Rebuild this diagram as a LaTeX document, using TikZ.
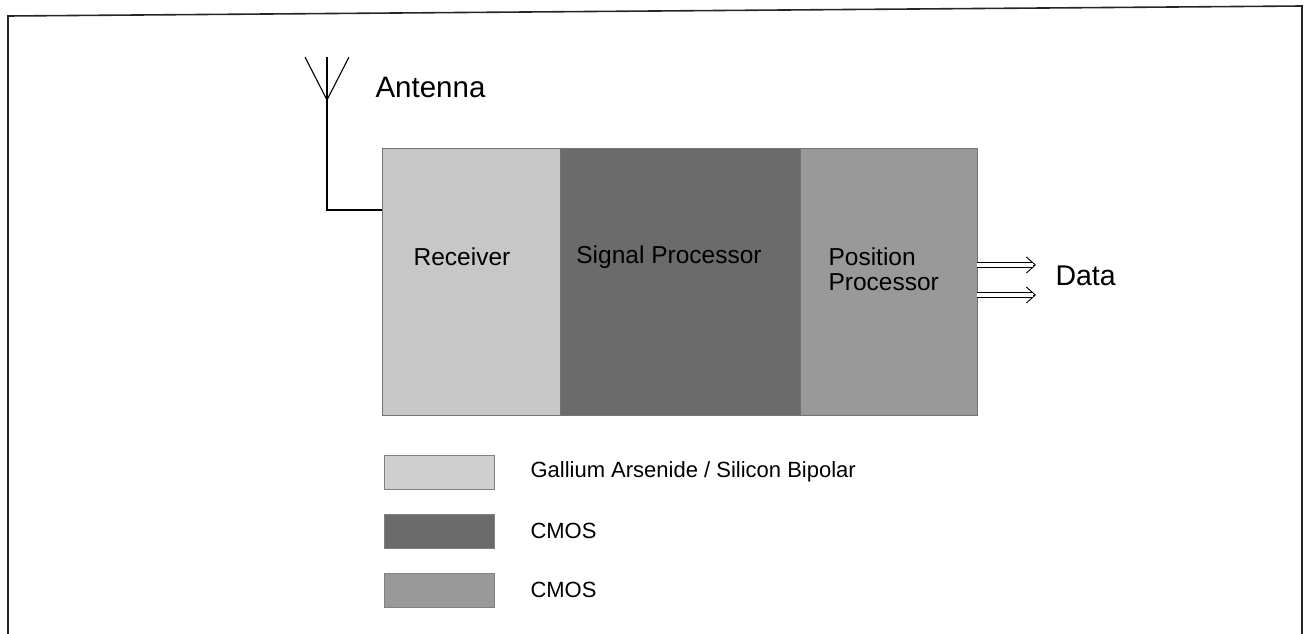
\documentclass[tikz,border=0pt]{standalone}
\usepackage{fontspec}
\setmainfont{Liberation Sans}
\usepackage{tikz}
\usetikzlibrary{arrows.meta,positioning}

\definecolor{gaas}{gray}{0.78}
\definecolor{cmosdk}{gray}{0.42}
\definecolor{cmoslt}{gray}{0.60}

\begin{document}
\begin{tikzpicture}[x=1pt,y=-1pt,
   blk/.style={draw=black!55,line width=0.6pt,inner sep=0pt,outer sep=0pt,minimum height=267pt},
   lbl/.style={font=\fontsize{24.5}{25}\selectfont},
   key/.style={draw=black!50,line width=0.5pt,inner sep=0pt,minimum width=110pt,minimum height=34pt},
   keytx/.style={anchor=west,font=\fontsize{22}{24}\selectfont},
   dattip/.style={line width=0.9pt,-{Straight Barb[length=9pt,width=16pt]}},
   dat/.style={double,double distance=3.6pt,line width=0.9pt,shorten >=3.2pt}]
  \useasboundingbox (0,0) rectangle (1304,634);
  % frame
  \draw[line width=1.6pt,black!85] (8,634) -- (8,16) -- (1302,6) -- (1302,634);
  % blocks
  \node[blk,fill=gaas,minimum width=178pt]   (rx) at (471,281.5) {};
  \node[blk,fill=cmosdk,minimum width=240pt,right=0pt of rx] (sp) {};
  \node[blk,fill=cmoslt,minimum width=177pt,right=0pt of sp] (pp) {};
  \node[lbl] (rxl) at (462,257) {Receiver};
  \node[lbl] (spl) at (669,257) {Signal Processor};
  \node[lbl,align=left,anchor=west] (ppl) at (825,269) {Position\\Processor};
  % antenna
  \coordinate (atop) at (327,57);
  \coordinate (atip) at (327,100);
  \coordinate (feed) at (rx.west |- 0,210);
  \draw[line width=1.1pt] (305,57) -- (atip) -- (349,57);
  \draw[line width=1.1pt] (atop) |- (feed);
  \node[lbl,font=\fontsize{29.5}{30}\selectfont,anchor=base west] (ant) at (372,98) {Antenna};
  % data out
  \coordinate (d1) at (1036,265);
  \coordinate (d2) at (1036,295);
  \foreach \d in {d1,d2} {
    \draw[dattip] (pp.east |- \d) -- (\d);
    \draw[dat] (pp.east |- \d) -- (\d);
  }
  \node[font=\fontsize{28.5}{30}\selectfont,anchor=base west] (dat) at (1052,285) {Data};
  % legend
  \node[key,fill=gaas!85]  (k1) at (439,472) {};
  \node[key,fill=cmosdk]   (k2) at (439,531) {};
  \node[key,fill=cmoslt]   (k3) at (439,590) {};
  \node[keytx] (t1) at (527,472) {Gallium Arsenide / Silicon Bipolar};
  \node[keytx] (t2) at (527,531) {CMOS};
  \node[keytx] (t3) at (527,590) {CMOS};
\end{tikzpicture}
\end{document}
